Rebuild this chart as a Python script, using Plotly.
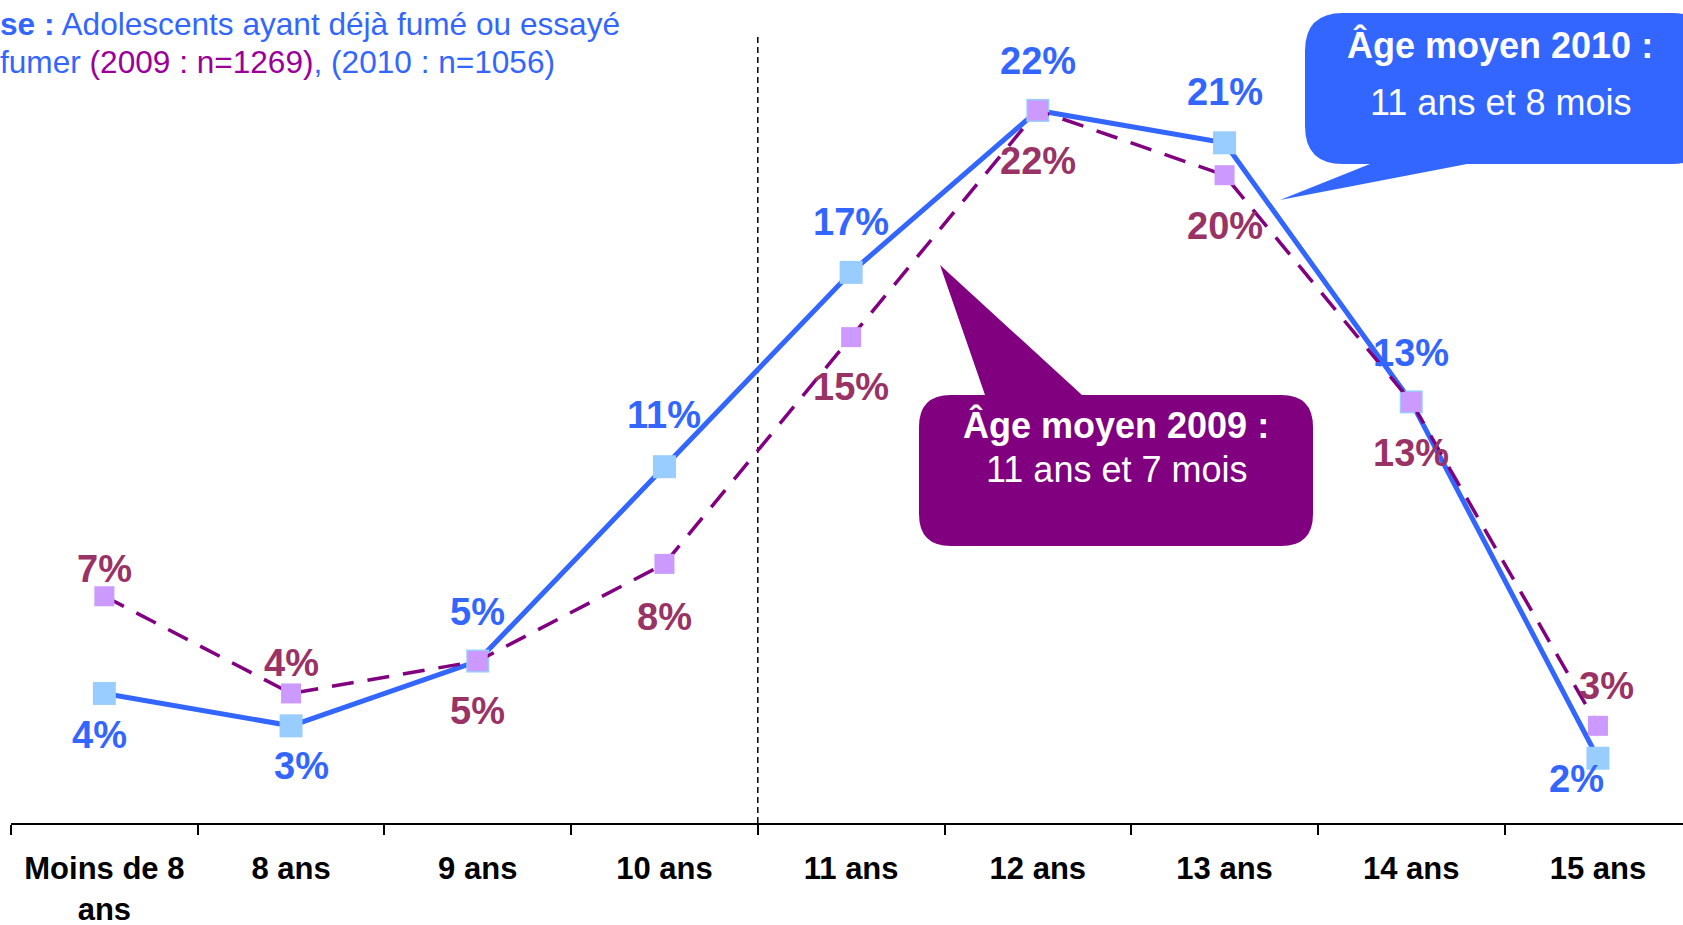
import plotly.graph_objects as go

# ---------------- data ----------------
categories = ["Moins de 8<br>ans", "8 ans", "9 ans", "10 ans", "11 ans",
              "12 ans", "13 ans", "14 ans", "15 ans"]
values_2010 = [4, 3, 5, 11, 17, 22, 21, 13, 2]
values_2009 = [7, 4, 5, 8, 15, 22, 20, 13, 3]
labels_2010 = ["4%", "3%", "5%", "11%", "17%", "22%", "21%", "13%", "2%"]
labels_2009 = ["7%", "4%", "5%", "8%", "15%", "22%", "20%", "13%", "3%"]

title_line1 = "<b>se :</b> Adolescents ayant déjà fumé ou essayé"
title_line2 = ("fumer <span style='color:#990099'>(2009 : n=1269)</span>, "
               "(2010 : n=1056)")
callout_2010 = ["<b>Âge moyen 2010 :</b>", "11 ans et 8 mois"]
callout_2009 = ["<b>Âge moyen 2009 :</b>", "11 ans et 7 mois"]

# ---------------- style ----------------
FONT = "Liberation Sans, Arial, sans-serif"
BLUE = "#3366FF"
BLUE_MK = "#99CCFF"
PURPLE = "#800080"
PURPLE_MK = "#CC99FF"
MAROON = "#993366"

# label offsets in pixels (xshift, yshift)
off_2010 = [(-5, -42), (10, -40), (0, 49), (0, 52), (0, 50), (0, 49), (0, 51), (0, 49), (-21, -21)]
off_2009 = [(0, 27), (0, 30), (0, -50), (0, -53), (0, -50), (0, -51), (0, -51), (0, -51), (9, 40)]

W, H = 1683, 925
L, R, T, B = 11, 1683, 10, 823


def px(x):
    return (x - L) / (R - L)


def py(y):
    return (B - y) / (B - T)


fig = go.Figure()
fig.add_trace(go.Scatter(
    x=categories, y=values_2010, mode="lines+markers",
    line=dict(color=BLUE, width=5),
    marker=dict(symbol="square", size=23, color=BLUE_MK, line=dict(width=0)),
    hoverinfo="skip", cliponaxis=False))
fig.add_trace(go.Scatter(
    x=categories, y=values_2009, mode="lines+markers",
    line=dict(color=PURPLE, width=3.5, dash="22px,14px"),
    marker=dict(symbol="square", size=20, color=PURPLE_MK, line=dict(width=0)),
    hoverinfo="skip", cliponaxis=False))

annotations = []
for c, v, t, (dx, dy) in zip(categories, values_2010, labels_2010, off_2010):
    annotations.append(dict(x=c, y=v, xref="x", yref="y", text=t, showarrow=False,
                            xshift=dx, yshift=dy, xanchor="center", yanchor="middle",
                            font=dict(family=FONT, size=38, color=BLUE, weight="bold")))
for c, v, t, (dx, dy) in zip(categories, values_2009, labels_2009, off_2009):
    annotations.append(dict(x=c, y=v, xref="x", yref="y", text=t, showarrow=False,
                            xshift=dx, yshift=dy, xanchor="center", yanchor="middle",
                            font=dict(family=FONT, size=38, color=MAROON, weight="bold")))

# title lines (top-left)
annotations.append(dict(x=px(-2), y=py(24), xref="paper", yref="paper", text=title_line1,
                        showarrow=False, xanchor="left", yanchor="middle",
                        font=dict(family=FONT, size=31.6, color=BLUE)))
annotations.append(dict(x=px(-2), y=py(62), xref="paper", yref="paper", text=title_line2,
                        showarrow=False, xanchor="left", yanchor="middle",
                        font=dict(family=FONT, size=31.6, color=BLUE)))

# callout texts
for txt, (cx, cy) in zip(callout_2010, [(1500, 45), (1500, 102)]):
    annotations.append(dict(x=px(cx), y=py(cy), xref="paper", yref="paper", text=txt,
                            showarrow=False, xanchor="center", yanchor="middle",
                            font=dict(family=FONT, size=36, color="white")))
for txt, (cx, cy) in zip(callout_2009, [(1116, 425), (1116, 469)]):
    annotations.append(dict(x=px(cx), y=py(cy), xref="paper", yref="paper", text=txt,
                            showarrow=False, xanchor="center", yanchor="middle",
                            font=dict(family=FONT, size=36, color="white")))


def P(x, y):
    return f"{px(x):.5f},{py(y):.5f}"


def callout_path(x0, y0, x1, y1, r, tail, tail_side):
    d = f"M{P(x0 + r, y0)}"
    if tail_side == "top":
        for pt in tail:
            d += f" L{P(*pt)}"
    d += f" L{P(x1 - r, y0)} Q{P(x1, y0)} {P(x1, y0 + r)}"
    d += f" L{P(x1, y1 - r)} Q{P(x1, y1)} {P(x1 - r, y1)}"
    if tail_side == "bottom":
        for pt in tail:
            d += f" L{P(*pt)}"
    d += f" L{P(x0 + r, y1)} Q{P(x0, y1)} {P(x0, y1 - r)}"
    d += f" L{P(x0, y0 + r)} Q{P(x0, y0)} {P(x0 + r, y0)} Z"
    return d


shapes = [
    dict(type="line", xref="x", yref="paper", x0=3.5, x1=3.5, y0=0, y1=py(37),
         line=dict(color="black", width=1.5, dash="6px,4px"), layer="below"),
    dict(type="path", xref="paper", yref="paper",
         path=callout_path(1305, 13, 1710, 164, 38,
                           [(1467, 164), (1280, 200), (1370, 164)], "bottom"),
         fillcolor=BLUE, line=dict(width=0), layer="above"),
    dict(type="path", xref="paper", yref="paper",
         path=callout_path(919, 395, 1313, 546, 32,
                           [(985, 395), (940, 265), (1082, 395)], "top"),
         fillcolor=PURPLE, line=dict(width=0), layer="above"),
]

fig.update_layout(
    width=W, height=H,
    margin=dict(l=L, r=W - R, t=T, b=H - B, pad=0, autoexpand=False),
    paper_bgcolor="white", plot_bgcolor="white",
    showlegend=False,
    annotations=annotations, shapes=shapes,
    xaxis=dict(type="category", range=[-0.5, -0.5 + (R - L) / 186.7],
               automargin=False,
               showline=True, linecolor="black", linewidth=2,
               ticks="outside", ticklen=10, tickwidth=1.5, tickcolor="black",
               tickson="boundaries", showgrid=False, zeroline=False,
               ticklabelstandoff=17,
               tickfont=dict(family=FONT, size=31, color="black", weight="bold")),
    yaxis=dict(range=[0, (B - T) / 32.39], visible=False, showgrid=False,
               zeroline=False, automargin=False),
)

fig.write_html(
    "out.html",
    config={"displayModeBar": False},
    post_script="document.body.style.margin='0';document.body.style.overflow='hidden';",
)
